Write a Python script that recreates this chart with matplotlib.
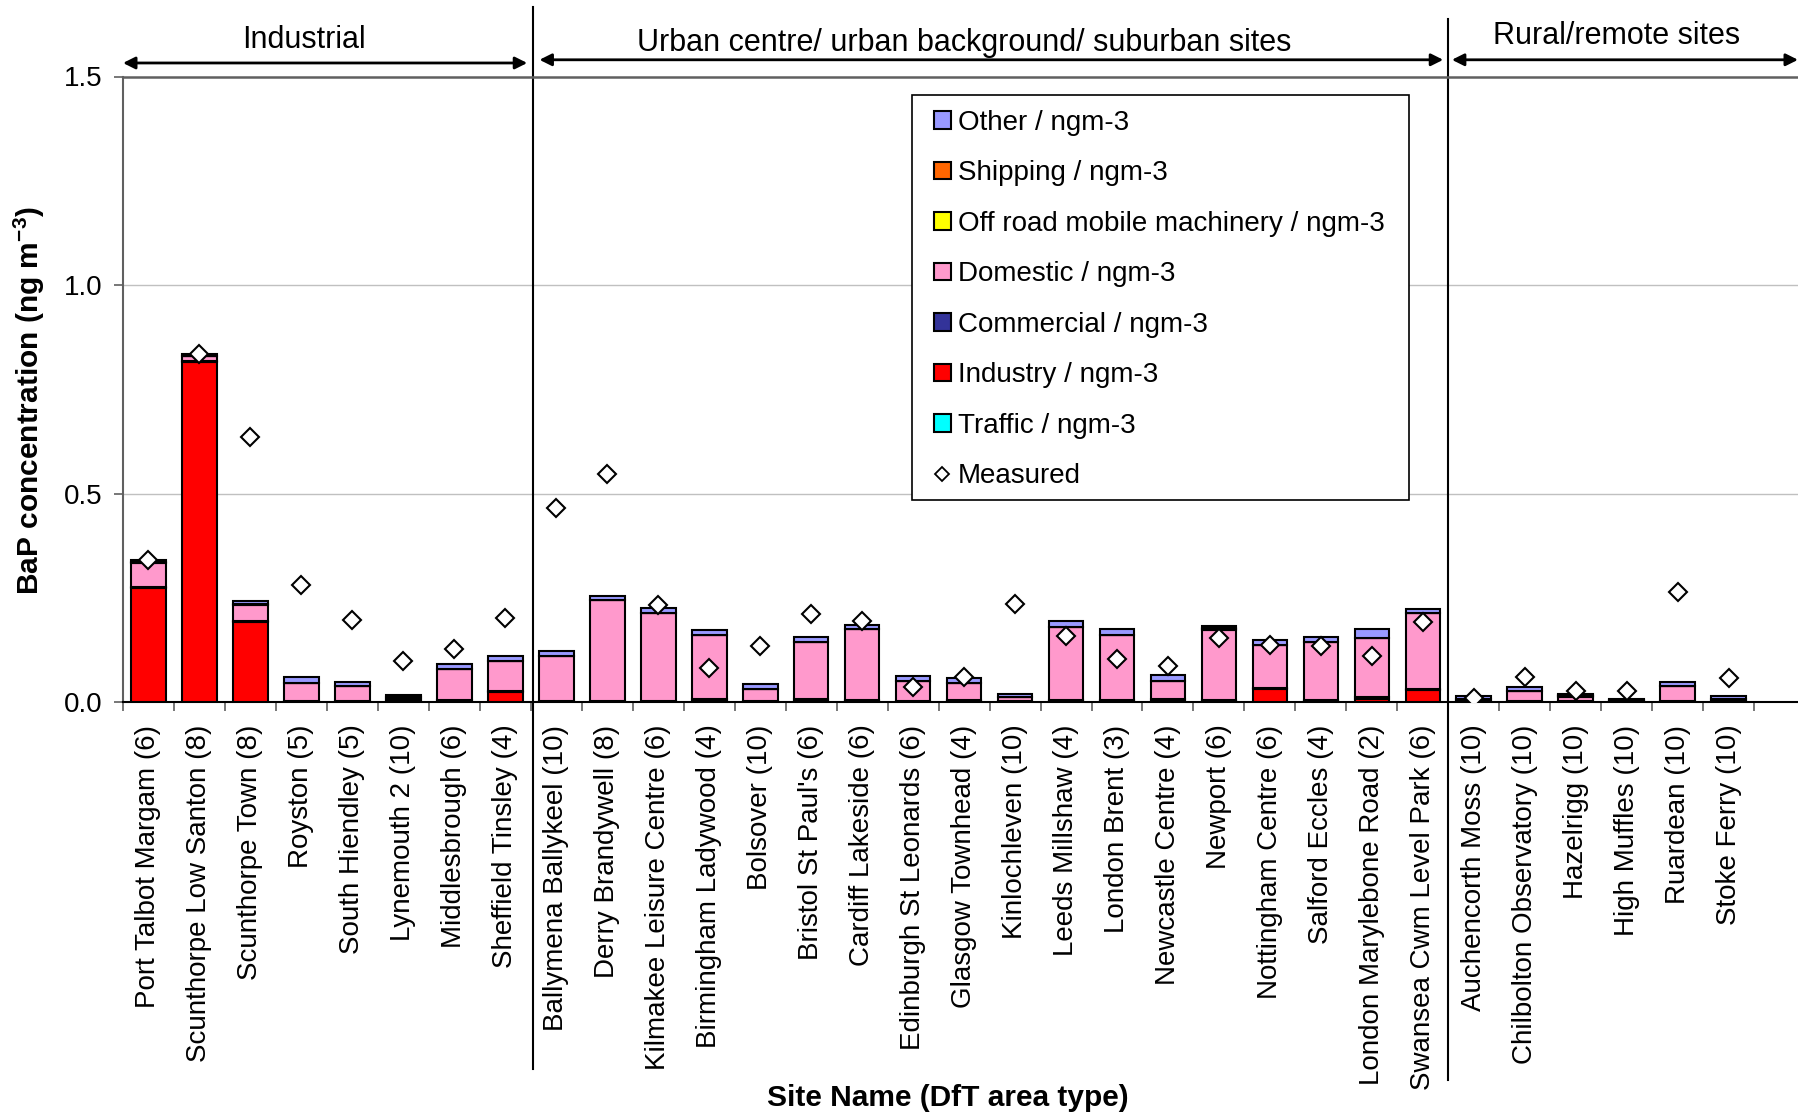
import numpy as np
import matplotlib.pyplot as plt
import matplotlib.transforms as mtransforms
from matplotlib.lines import Line2D
from matplotlib.patches import Patch, Rectangle

plt.rcParams['font.family'] = ['Liberation Sans', 'DejaVu Sans']
plt.rcParams['mathtext.fontset'] = 'custom'
plt.rcParams['mathtext.rm'] = 'Liberation Sans'
plt.rcParams['mathtext.bf'] = 'Liberation Sans:bold'

# site names, grouped: 8 industrial, 18 urban, 6 rural
sites = ['Port Talbot Margam (6)', 'Scunthorpe Low Santon (8)', 'Scunthorpe Town (8)',
         'Royston (5)', 'South Hiendley (5)', 'Lynemouth 2 (10)', 'Middlesbrough (6)',
         'Sheffield Tinsley (4)',
         'Ballymena Ballykeel (10)', 'Derry Brandywell (8)', 'Kilmakee Leisure Centre (6)',
         'Birmingham Ladywood (4)', 'Bolsover (10)', "Bristol St Paul's (6)",
         'Cardiff Lakeside (6)', 'Edinburgh St Leonards (6)', 'Glasgow Townhead (4)',
         'Kinlochleven (10)', 'Leeds Millshaw (4)', 'London Brent (3)', 'Newcastle Centre (4)',
         'Newport (6)', 'Nottingham Centre (6)', 'Salford Eccles (4)',
         'London Marylebone Road (2)', 'Swansea Cwm Level Park (6)',
         'Auchencorth Moss (10)', 'Chilbolton Observatory (10)', 'Hazelrigg (10)',
         'High Muffles (10)', 'Ruardean (10)', 'Stoke Ferry (10)']

# source contributions / ngm-3 (stacked bottom -> top)
traffic = [0.0] * 32
industry = [0.275, 0.815, 0.193, 0.001, 0.001, 0.002, 0.001, 0.024,
            0.001, 0.001, 0.001, 0.003, 0.001, 0.002, 0.002, 0.001, 0.002,
            0.001, 0.002, 0.002, 0.003, 0.002, 0.032, 0.002, 0.008, 0.029,
            0.001, 0.001, 0.001, 0.001, 0.001, 0.001]
commercial = [0.002, 0.002, 0.002, 0.003, 0.002, 0.005, 0.004, 0.002,
              0.002, 0.002, 0.002, 0.005, 0.002, 0.005, 0.003, 0.002, 0.004,
              0.002, 0.003, 0.003, 0.006, 0.003, 0.002, 0.004, 0.004, 0.002,
              0.003, 0.002, 0.002, 0.003, 0.002, 0.003]
domestic = [0.058, 0.012, 0.039, 0.042, 0.035, 0.006, 0.076, 0.073,
            0.109, 0.242, 0.212, 0.153, 0.030, 0.137, 0.171, 0.048, 0.040,
            0.010, 0.176, 0.156, 0.043, 0.168, 0.103, 0.139, 0.141, 0.182,
            0.004, 0.023, 0.009, 0.002, 0.036, 0.004]
offroad = [0.001, 0.001, 0.001, 0.0, 0.0, 0.0, 0.0, 0.0,
           0.0, 0.0, 0.0, 0.0, 0.0, 0.0, 0.0, 0.0, 0.0,
           0.0, 0.0, 0.0, 0.0, 0.002, 0.0, 0.0, 0.0, 0.0,
           0.0, 0.0, 0.003, 0.0, 0.0, 0.0]
shipping = [0.001, 0.001, 0.001, 0.0, 0.0, 0.0, 0.0, 0.0,
            0.0, 0.0, 0.0, 0.0, 0.0, 0.0, 0.0, 0.0, 0.0,
            0.0, 0.0, 0.0, 0.0, 0.003, 0.0, 0.0, 0.0, 0.0,
            0.0, 0.0, 0.002, 0.0, 0.0, 0.0]
other = [0.003, 0.005, 0.006, 0.014, 0.011, 0.004, 0.011, 0.013,
         0.012, 0.010, 0.012, 0.013, 0.010, 0.012, 0.010, 0.012, 0.012,
         0.006, 0.013, 0.015, 0.014, 0.004, 0.013, 0.011, 0.023, 0.010,
         0.006, 0.011, 0.003, 0.002, 0.010, 0.007]
measured = [0.340, 0.835, 0.637, 0.281, 0.197, 0.100, 0.127, 0.202,
            0.465, 0.547, 0.233, 0.083, 0.136, 0.212, 0.194, 0.036, 0.060,
            0.235, 0.160, 0.103, 0.087, 0.153, 0.137, 0.134, 0.112, 0.193,
            0.011, 0.060, 0.028, 0.028, 0.264, 0.058]

layers = [('Traffic / ngm-3', traffic, '#00FFFF'),
          ('Industry / ngm-3', industry, '#FF0000'),
          ('Commercial / ngm-3', commercial, '#333399'),
          ('Domestic / ngm-3', domestic, '#FF99CC'),
          ('Off road mobile machinery / ngm-3', offroad, '#FFFF00'),
          ('Shipping / ngm-3', shipping, '#FF6600'),
          ('Other / ngm-3', other, '#9999FF')]

W, H = 1798, 1113
fig = plt.figure(figsize=(W / 100, H / 100), dpi=100)
ax = fig.add_axes([123 / W, (H - 702.3) / H, (W - 123) / W, 625.8 / H])

x = np.arange(len(sites))
bottom = np.zeros(len(sites))
for name, vals, col in layers:
    vals = np.array(vals)
    ax.bar(x, vals, bottom=bottom, width=0.68, color=col, edgecolor='black',
           linewidth=1.5, zorder=3)
    bottom = bottom + vals

ax.plot(x, measured, linestyle='none', marker='D', markersize=9,
        markerfacecolor='white', markeredgecolor='black', markeredgewidth=1.5, zorder=5)

ax.set_xlim(-0.5, 32.36)
ax.set_ylim(0, 1.5)
ax.set_yticks([0, 0.5, 1.0, 1.5])
ax.set_yticklabels(['0.0', '0.5', '1.0', '1.5'])
for yv in [0.5, 1.0]:
    ax.axhline(yv, color='#c0c0c0', linewidth=1.0, zorder=1)
ax.tick_params(axis='y', length=6.5, width=1.2, color='#606060', pad=8, labelsize=20)

ax.set_xticks(x)
ax.set_xticklabels(sites, rotation=90, fontsize=20)
ax.set_xticks(np.arange(len(sites) + 1) - 0.5, minor=True)
ax.tick_params(axis='x', which='major', length=0, pad=16)
ax.tick_params(axis='x', which='minor', length=6.5, width=1.2, color='#606060')

ax.spines['right'].set_visible(False)
ax.spines['top'].set_color('#606060')
ax.spines['top'].set_linewidth(1.8)
ax.spines['left'].set_color('#606060')
ax.spines['left'].set_linewidth(1.5)
ax.spines['bottom'].set_linewidth(1.5)

# group separators and arrows
trans = mtransforms.blended_transform_factory(ax.transData, ax.transAxes)
ax.plot([7.55, 7.55], [1.111, -0.586], transform=trans, color='black', lw=1.5, clip_on=False)
ax.plot([25.5, 25.5], [1.092, -0.604], transform=trans, color='black', lw=1.5, clip_on=False)

arrows = [(-0.5, 7.43, 1.0216), (7.67, 25.40, 1.0267), (25.57, 32.36, 1.0267)]
for x0, x1, yy in arrows:
    ax.annotate('', xy=(x1, yy), xytext=(x0, yy), xycoords=trans, textcoords=trans,
                arrowprops=dict(arrowstyle='<|-|>', lw=2, color='black', mutation_scale=18,
                                shrinkA=0, shrinkB=0), annotation_clip=False)

fig.text(304 / W, 1 - 40 / H, 'Industrial', ha='center', va='center', fontsize=22)
fig.text(964 / W, 1 - 43 / H, 'Urban centre/ urban background/ suburban sites',
         ha='center', va='center', fontsize=22)
fig.text(1617 / W, 1 - 36 / H, 'Rural/remote sites', ha='center', va='center', fontsize=22)

fig.text(948 / W, 1 - 1098 / H, 'Site Name (DfT area type)', ha='center', va='center',
         fontsize=21.5, fontweight='bold')
fig.text(29 / W, 1 - 401 / H, r'BaP concentration (ng m$^{\mathbf{-3}}$)', rotation=90,
         ha='center', va='center', fontsize=21.5, fontweight='bold')

# legend (frame drawn separately)
fig.add_artist(Rectangle((912 / W, 1 - 500 / H), 497 / W, 405 / H, transform=fig.transFigure,
                         facecolor='white', edgecolor='black', linewidth=1.2, zorder=4))
handles = []
labels = []
for name, vals, col in layers[::-1]:
    handles.append(Patch(facecolor=col, edgecolor='black', linewidth=1.5))
    labels.append(name)
handles.append(Line2D([], [], linestyle='none', marker='D', markersize=7,
                      markerfacecolor='white', markeredgecolor='black', markeredgewidth=1.3))
labels.append('Measured')
leg = fig.legend(handles, labels, loc='upper left', bbox_to_anchor=(934 / W, 1 - 110 / H),
                 frameon=False, fontsize=20, handlelength=0.6, handleheight=0.6,
                 handletextpad=0.25, labelspacing=0.88, borderpad=0, borderaxespad=0)
leg.set_zorder(5)

fig.savefig('out.png', dpi=100)
